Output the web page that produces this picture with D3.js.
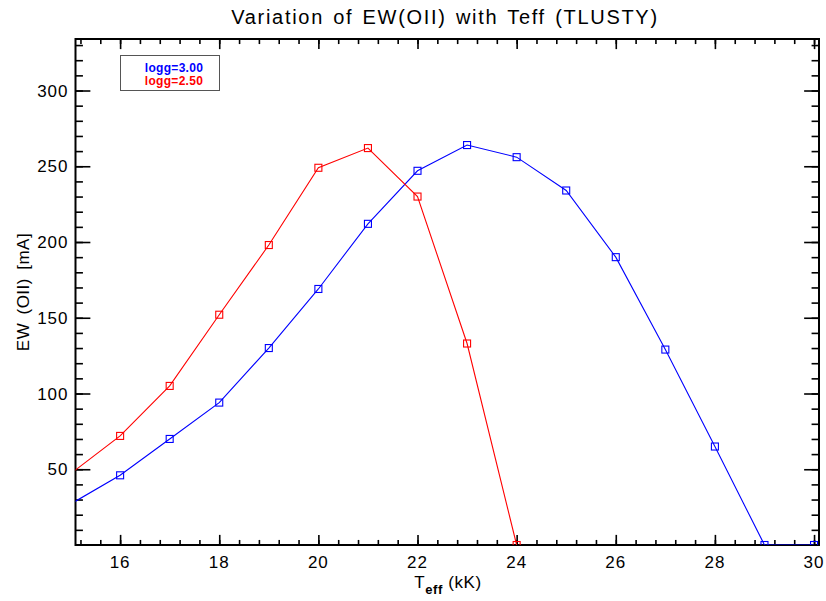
<!DOCTYPE html>
<html>
<head>
<meta charset="utf-8">
<script src="https://cdn.jsdelivr.net/npm/d3@7"></script>
<style>
  body { margin: 0; background: #fff; }
  text { font-family: "Liberation Sans", "DejaVu Sans", sans-serif; }
</style>
</head>
<body>
<div id="chart"></div>
<script>
// Teff grid (kK)
const teffBlue = [15, 16, 17, 18, 19, 20, 21, 22, 23, 24, 25, 26, 27, 28, 29, 30];
const ewBlue   = [27, 46, 70, 94, 130, 169, 212, 247, 264, 256, 234, 190, 129, 65, 0, 0];   // logg=3.00
const teffRed  = [15, 16, 17, 18, 19, 20, 21, 22, 23, 24];
const ewRed    = [47, 72, 105, 152, 198, 249, 262, 230, 133, 0];                            // logg=2.50
const xTicks = [16, 18, 20, 22, 24, 26, 28, 30];
const yTicks = [50, 100, 150, 200, 250, 300];
const legendLabels = ["logg=3.00", "logg=2.50"];
const colors = ["#0000ff", "#ff0000"];

const width = 826, height = 601;
const margin = {left: 75.5, right: 7, top: 39, bottom: 56};
const iw = width - margin.left - margin.right;
const ih = height - margin.top - margin.bottom;

const svg = d3.select("#chart").append("svg")
    .attr("width", width)
    .attr("height", height);

svg.append("rect").attr("width", width).attr("height", height).attr("fill", "#fff");

const x = d3.scaleLinear().domain([15.1, 30.1]).range([0, iw]);
const y = d3.scaleLinear().domain([0, 334]).range([ih, 0]);

const g = svg.append("g").attr("transform", `translate(${margin.left},${margin.top})`);

svg.append("defs").append("clipPath").attr("id", "clip")
    .append("rect").attr("width", iw).attr("height", ih);

// IDL style ticks: major + 4 minor, on all four sides
const xMinor = d3.range(15.2, 30.1, 0.4).filter(v => x(v) <= iw + 0.5);
const yMinor = d3.range(10, 334, 10);
const tlx = 0.02 * ih, tly = 0.02 * iw;

// bottom
g.append("g").attr("transform", `translate(0,${ih})`)
    .call(d3.axisTop(x).tickValues(xMinor).tickSize(tlx / 2).tickFormat(""));
g.append("g").attr("transform", `translate(0,${ih})`)
    .call(d3.axisTop(x).tickValues(xTicks).tickSize(tlx).tickFormat(""));
// top
g.append("g").call(d3.axisBottom(x).tickValues(xMinor).tickSize(tlx / 2).tickFormat(""));
g.append("g").call(d3.axisBottom(x).tickValues(xTicks).tickSize(tlx).tickFormat(""));
// left
g.append("g").call(d3.axisRight(y).tickValues(yMinor).tickSize(tly / 2).tickFormat(""));
g.append("g").call(d3.axisRight(y).tickValues(yTicks).tickSize(tly).tickFormat(""));
// right
g.append("g").attr("transform", `translate(${iw},0)`)
    .call(d3.axisLeft(y).tickValues(yMinor).tickSize(tly / 2).tickFormat(""));
g.append("g").attr("transform", `translate(${iw},0)`)
    .call(d3.axisLeft(y).tickValues(yTicks).tickSize(tly).tickFormat(""));

g.selectAll(".domain").remove();
g.selectAll(".tick line").attr("stroke", "#000").attr("stroke-width", 1.6);

// frame
g.append("rect").attr("width", iw).attr("height", ih)
    .attr("fill", "none").attr("stroke", "#000").attr("stroke-width", 2);

// tick labels
g.selectAll(".xlab").data(xTicks).enter().append("text")
    .attr("x", d => x(d)).attr("y", ih + 23)
    .attr("text-anchor", "middle")
    .attr("font-size", 17)
    .attr("letter-spacing", 1)
    .text(d => d);
g.selectAll(".ylab").data(yTicks).enter().append("text")
    .attr("x", -7).attr("y", d => y(d) + 6)
    .attr("text-anchor", "end")
    .attr("font-size", 17)
    .attr("letter-spacing", 1)
    .text(d => d);

// series
const series = [
    {t: teffBlue, v: ewBlue, c: colors[0]},
    {t: teffRed, v: ewRed, c: colors[1]}
];
const line = d3.line().x(d => x(d[0])).y(d => y(d[1]));
const plot = g.append("g").attr("clip-path", "url(#clip)");
series.forEach(s => {
    const pts = s.t.map((t, i) => [t, s.v[i]]);
    plot.append("path").datum(pts)
        .attr("d", line)
        .attr("fill", "none")
        .attr("stroke", s.c)
        .attr("stroke-width", 1.1);
    plot.selectAll(null).data(pts).enter().append("rect")
        .attr("x", d => x(d[0]) - 3.5)
        .attr("y", d => y(d[1]) - 3.5)
        .attr("width", 7).attr("height", 7)
        .attr("fill", "none")
        .attr("stroke", s.c)
        .attr("stroke-width", 1.1);
});

// legend
svg.append("rect").attr("x", 120.5).attr("y", 55.5).attr("width", 99).attr("height", 35)
    .attr("fill", "#fff").attr("stroke", "#555").attr("stroke-width", 1);
legendLabels.forEach((l, i) => {
    svg.append("text")
        .attr("x", 174).attr("y", 72 + i * 13)
        .attr("text-anchor", "middle")
        .attr("font-size", 12)
        .attr("font-weight", "bold")
        .attr("letter-spacing", 0.3)
        .attr("fill", colors[i])
        .text(l);
});

// title
svg.append("text")
    .attr("x", 445).attr("y", 24)
    .attr("text-anchor", "middle")
    .attr("font-size", 20)
    .attr("letter-spacing", 1.7)
    .attr("word-spacing", 2)
    .text("Variation of EW(OII) with Teff (TLUSTY)");

// x axis title
const xt = svg.append("text")
    .attr("x", 448).attr("y", 588)
    .attr("text-anchor", "middle")
    .attr("font-size", 17)
    .attr("letter-spacing", 0.6);
xt.append("tspan").text("T");
xt.append("tspan").attr("dy", 6).attr("font-size", 13).attr("font-weight", "bold").text("eff");
xt.append("tspan").attr("dy", -6).text(" (kK)");

// y axis title
svg.append("text")
    .attr("transform", "translate(29,292) rotate(-90)")
    .attr("text-anchor", "middle")
    .attr("font-size", 17)
    .attr("letter-spacing", 0.5)
    .attr("word-spacing", 3)
    .text("EW (OII) [mA]");
</script>
</body>
</html>
